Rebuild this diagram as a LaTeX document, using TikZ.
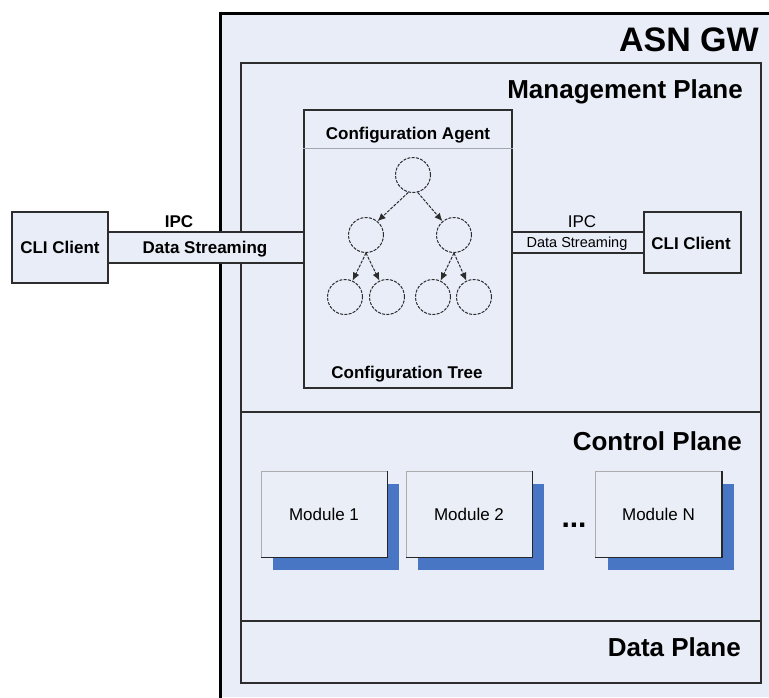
\documentclass[tikz,border=0pt]{standalone}
\usepackage{fontspec}
\setmainfont{Liberation Sans}
\usetikzlibrary{arrows.meta,shadows}
\definecolor{bgc}{RGB}{232,237,247}
\definecolor{modc}{RGB}{234,238,246}
\definecolor{shad}{RGB}{72,118,196}
\definecolor{bord}{RGB}{45,45,45}
\definecolor{sepc}{RGB}{160,168,178}
\begin{document}
\begin{tikzpicture}[x=1pt,y=-1pt]
\tikzset{
  plane/.style={draw=bord, line width=1.6pt, fill=bgc, inner sep=0pt},
  ttl/.style={font=\fontsize{26}{30}\selectfont\bfseries, inner sep=0pt},
  boxs/.style={draw=bord, line width=1.2pt, fill=bgc, inner sep=0pt},
  lbl/.style={font=\fontsize{17}{20}\selectfont\bfseries, inner sep=0pt},
  lblr/.style={font=\fontsize{17}{20}\selectfont, inner sep=0pt},
  modbox/.style={draw=gray!65, line width=1pt, fill=modc, minimum width=126pt,
    minimum height=86pt, inner sep=0pt, font=\fontsize{17}{20}\selectfont,
    drop shadow={shadow xshift=12pt, shadow yshift=-13pt, fill=shad, opacity=1}},
  modedge/.style={draw=gray!30!black, line width=1.2pt},
  tnode/.style={circle, draw=bord, dash pattern=on 3pt off 1.3pt, line width=1pt, minimum size=35pt, inner sep=0pt},
  tarrow/.style={dash pattern=on 3pt off 1.3pt, draw=bord, line width=1pt, -{Latex[length=8pt,width=7pt]}},
}
\useasboundingbox (0,0) rectangle (769,697);
% outer ASN GW box
\fill[bgc] (220,13) rectangle (769,697);
\draw[line width=3pt, line cap=rect] (220,697) -- (220,13) -- (769,13);
\node[ttl, font=\fontsize{34}{38}\selectfont\bfseries, anchor=base east] (asn) at (759,51) {ASN GW};
% planes
\node[plane, minimum width=520pt, minimum height=349pt] (mgmt) at (501,237.5) {};
\node[plane, minimum width=520pt, minimum height=209pt] (ctrl) at (501,516.5) {};
\node[plane, minimum width=520pt, minimum height=62pt] (data) at (501,652) {};
\node[ttl, anchor=base east] (mgmtt) at (743,98) {Management Plane};
\node[ttl, anchor=base east] (ctrlt) at (742,450) {Control Plane};
\node[ttl, anchor=base east] (datat) at (741,656) {Data Plane};
% configuration agent
\node[boxs, minimum width=208pt, minimum height=278pt] (agent) at (408,249) {};
\draw[sepc, line width=1pt] (agent.west |- 0,148) coordinate (sepl) -- (agent.east |- 0,148) coordinate (sepr);
\node[lbl, anchor=base] (agentt) at (408,139) {Configuration Agent};
\node[lbl, anchor=base] (treet) at (407,378) {Configuration Tree};
% tree
\node[tnode] (r) at (413,175) {};
\node[tnode] (a) at (366,235) {};
\node[tnode] (b) at (454,235) {};
\node[tnode] (a1) at (345,297) {};
\node[tnode] (a2) at (387,297) {};
\node[tnode] (b1) at (433,297) {};
\node[tnode] (b2) at (474,297) {};
\draw[tarrow] (r.-105) -- (a.50);
\draw[tarrow] (r.-75) -- (b.130);
\draw[tarrow] (a.-90) -- (a1.65);
\draw[tarrow] (a.-90) -- (a2.115);
\draw[tarrow] (b.-90) -- (b1.65);
\draw[tarrow] (b.-90) -- (b2.115);
% left CLI client and pipe
\node[boxs, minimum width=96pt, minimum height=71pt] (cliL) at (60,247.5) {};
\node[lbl, anchor=base] (cliLt) at (60,253) {CLI Client};
\node[boxs, minimum width=196pt, minimum height=31pt] (pipeL) at (206,247.5) {};
\node[lbl, anchor=base] (pipeLt) at (205,253) {Data Streaming};
\node[lbl, anchor=base] (ipcL) at (179,227) {IPC};
% right pipe and CLI client
\node[boxs, minimum width=132pt, minimum height=21pt] (pipeR) at (578,242.5) {};
\node[lblr, font=\fontsize{14.5}{17}\selectfont, anchor=base] (pipeRt) at (577,247) {Data Streaming};
\node[lblr, anchor=base] (ipcR) at (582,227) {IPC};
\node[boxs, minimum width=97pt, minimum height=61pt] (cliR) at (692.5,242.5) {};
\node[lbl, anchor=base] (cliRt) at (691,249) {CLI Client};
% modules
\node[modbox] (m1) at (324,514) {Module 1};
\node[modbox] (m2) at (469,514) {Module 2};
\node[modbox] (mn) at (658.5,514) {Module N};
\foreach \m in {m1,m2,mn} \draw[modedge] (\m.north east) -- (\m.south east) -- (\m.south west);
\node[font=\fontsize{30}{32}\selectfont\bfseries, inner sep=0pt, anchor=base] (dots) at (574,527) {...};
\end{tikzpicture}
\end{document}
